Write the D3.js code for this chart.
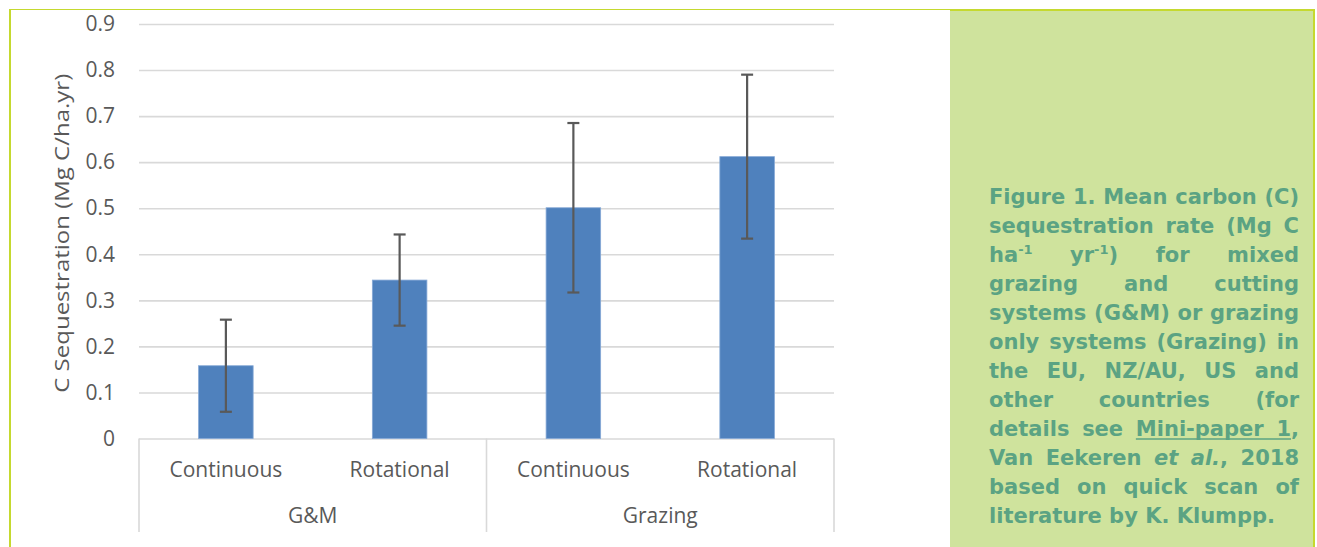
<!DOCTYPE html>
<html>
<head>
<meta charset="utf-8">
<script src="https://cdn.jsdelivr.net/npm/d3@7"></script>
<style>
  html, body { margin: 0; padding: 0; background: #ffffff; }
  svg { display: block; }
</style>
</head>
<body>
<svg id="chart" width="1317" height="547"></svg>
<script>
// ---------- data ----------
const groups = ["G&M", "Grazing"];
const categories = ["Continuous", "Rotational", "Continuous", "Rotational"];
const categoryGroup = ["G&M", "G&M", "Grazing", "Grazing"];
const values = [0.158, 0.344, 0.501, 0.612];
const errors = [0.100, 0.099, 0.184, 0.178];
const yTicks = [0, 0.1, 0.2, 0.3, 0.4, 0.5, 0.6, 0.7, 0.8, 0.9];
const yTitle = "C Sequestration (Mg C/ha.yr)";

// caption lines: each word is list of segments
const captionLines = [
  [[{t:"Figure"}],[{t:"1."}],[{t:"Mean"}],[{t:"carbon"}],[{t:"(C)"}]],
  [[{t:"sequestration"}],[{t:"rate"}],[{t:"(Mg"}],[{t:"C"}]],
  [[{t:"ha"},{t:"-1",sup:true}],[{t:"yr"},{t:"-1",sup:true},{t:")"}],[{t:"for"}],[{t:"mixed"}]],
  [[{t:"grazing"}],[{t:"and"}],[{t:"cutting"}]],
  [[{t:"systems"}],[{t:"(G&M)"}],[{t:"or"}],[{t:"grazing"}]],
  [[{t:"only"}],[{t:"systems"}],[{t:"(Grazing)"}],[{t:"in"}]],
  [[{t:"the"}],[{t:"EU,"}],[{t:"NZ/AU,"}],[{t:"US"}],[{t:"and"}]],
  [[{t:"other"}],[{t:"countries"}],[{t:"(for"}]],
  [[{t:"details"}],[{t:"see"}],[{t:"Mini-paper",u:true}],[{t:"1",u:true},{t:","}]],
  [[{t:"Van"}],[{t:"Eekeren"}],[{t:"et",it:true}],[{t:"al.",it:true},{t:","}],[{t:"2018"}]],
  [[{t:"based"}],[{t:"on"}],[{t:"quick"}],[{t:"scan"}],[{t:"of"}]],
  [[{t:"literature"}],[{t:"by"}],[{t:"K."}],[{t:"Klumpp."}]]
];

// ---------- setup ----------
const svg = d3.select("#chart");
const frameColor = "#c5d92f";
const panelFill = "#cfe39d";
const captionColor = "#5ba383";
const textGray = "#595959";
const gridColor = "#d9d9d9";
const barColor = "#4f81bd";

// frame
svg.append("line").attr("x1", 10).attr("x2", 10).attr("y1", 9).attr("y2", 547)
  .attr("stroke", frameColor).attr("stroke-width", 2);
svg.append("line").attr("x1", 9).attr("x2", 951).attr("y1", 9.5).attr("y2", 9.5)
  .attr("stroke", frameColor).attr("stroke-width", 1.2);

// panel
svg.append("rect").attr("x", 950).attr("y", 9).attr("width", 364).attr("height", 540)
  .attr("fill", panelFill);
svg.append("line").attr("x1", 950).attr("x2", 1315).attr("y1", 10).attr("y2", 10)
  .attr("stroke", frameColor).attr("stroke-width", 2);
svg.append("line").attr("x1", 1314).attr("x2", 1314).attr("y1", 9).attr("y2", 547)
  .attr("stroke", frameColor).attr("stroke-width", 2);

// ---------- scales ----------
const plotLeft = 139, plotRight = 834, plotTop = 24, plotBottom = 438.5;
const y = d3.scaleLinear().domain([0, 0.9]).range([plotBottom, plotTop]);
const keys = categories.map((c, i) => categoryGroup[i] + "|" + c);
const x = d3.scaleBand().domain(keys).range([plotLeft, plotRight])
  .paddingInner(0.686).paddingOuter(0.343);

const chart = svg.append("g");

// gridlines via axis
const yAxis = d3.axisLeft(y).tickValues(yTicks).tickSize(-(plotRight - plotLeft))
  .tickFormat(d => d3.format("")(+d.toFixed(1)));
const yg = chart.append("g").attr("transform", `translate(${plotLeft},0)`).call(yAxis);
yg.select(".domain").remove();
yg.selectAll(".tick line").attr("stroke", gridColor).attr("stroke-width", 1.6);
yg.selectAll(".tick text").attr("x", -24).attr("fill", textGray)
  .style("font-family", "'Open Sans', sans-serif").style("font-size", "21px");

// category axis separators
const sepX = [plotLeft, (plotLeft + plotRight) / 2, plotRight];
chart.selectAll(".sep").data(sepX).enter().append("line")
  .attr("x1", d => d).attr("x2", d => d).attr("y1", plotBottom).attr("y2", 532)
  .attr("stroke", gridColor).attr("stroke-width", 1.6);

// bars
chart.selectAll(".bar").data(values).enter().append("rect")
  .attr("x", (d, i) => x(keys[i]))
  .attr("width", x.bandwidth())
  .attr("y", d => y(d))
  .attr("height", d => plotBottom - y(d))
  .attr("fill", barColor)
  .attr("stroke", "#86a9d6").attr("stroke-width", 0.8);

// error bars
const eb = chart.selectAll(".err").data(values).enter().append("g");
eb.append("line")
  .attr("x1", (d, i) => x(keys[i]) + x.bandwidth() / 2)
  .attr("x2", (d, i) => x(keys[i]) + x.bandwidth() / 2)
  .attr("y1", (d, i) => y(d + errors[i]))
  .attr("y2", (d, i) => y(d - errors[i]))
  .attr("stroke", textGray).attr("stroke-width", 2.2);
[1, -1].forEach(s => {
  eb.append("line")
    .attr("x1", (d, i) => x(keys[i]) + x.bandwidth() / 2 - 6)
    .attr("x2", (d, i) => x(keys[i]) + x.bandwidth() / 2 + 6)
    .attr("y1", (d, i) => y(d + s * errors[i]))
    .attr("y2", (d, i) => y(d + s * errors[i]))
    .attr("stroke", textGray).attr("stroke-width", 2.2);
});

// category labels
chart.selectAll(".cat").data(categories).enter().append("text")
  .attr("x", (d, i) => x(keys[i]) + x.bandwidth() / 2)
  .attr("y", 477)
  .attr("text-anchor", "middle").attr("fill", textGray)
  .style("font-family", "'Open Sans', sans-serif").style("font-size", "21px")
  .text(d => d);

// group labels
chart.selectAll(".grp").data(groups).enter().append("text")
  .attr("x", g => {
    const ks = keys.filter((k, i) => categoryGroup[i] === g);
    return (x(ks[0]) + x(ks[ks.length - 1]) + x.bandwidth()) / 2;
  })
  .attr("y", 523)
  .attr("text-anchor", "middle").attr("fill", textGray)
  .style("font-family", "'Open Sans', sans-serif").style("font-size", "21px")
  .text(d => d);

// y title
chart.append("text")
  .attr("transform", `translate(69,${(plotTop + plotBottom) / 2 + 2}) rotate(-90) scale(1.2,1)`)
  .attr("text-anchor", "middle").attr("fill", textGray)
  .style("font-family", "'Open Sans', sans-serif").style("font-size", "20px")
  .text(yTitle);

// ---------- caption (justified) ----------
const capLeft = 989, capRight = 1299, capTop = 204, capStep = 29;
const capFont = "21px";
const cap = svg.append("g")
  .style("font-family", "'DejaVu Sans', sans-serif")
  .style("font-weight", "bold").attr("fill", captionColor);

captionLines.forEach((line, li) => {
  const by = capTop + li * capStep;
  // build words, measure
  const words = line.map(word => {
    const g = cap.append("g");
    let cx = 0;
    const segs = word.map(seg => {
      const t = g.append("text")
        .attr("x", cx)
        .attr("y", seg.sup ? by - 8 : by)
        .style("font-size", seg.sup ? "13px" : capFont)
        .style("font-style", seg.it ? "italic" : "normal")
        .text(seg.t);
      const w = t.node().getComputedTextLength();
      const info = {x0: cx, x1: cx + w, u: !!seg.u};
      cx += w;
      return info;
    });
    return {g, w: cx, segs};
  });
  const total = d3.sum(words, d => d.w);
  const last = li === captionLines.length - 1;
  let gap = words.length > 1 ? (capRight - capLeft - total) / (words.length - 1) : 0;
  if (last) gap = 7.3;
  gap = Math.max(gap, 4);
  let px = capLeft;
  const ulines = [];
  words.forEach(wd => {
    wd.g.attr("transform", `translate(${px},0)`);
    wd.segs.forEach(s => { if (s.u) ulines.push([px + s.x0, px + s.x1]); });
    px += wd.w + gap;
  });
  if (ulines.length) {
    const ux0 = d3.min(ulines, d => d[0]), ux1 = d3.max(ulines, d => d[1]);
    cap.append("line").attr("x1", ux0).attr("x2", ux1)
      .attr("y1", by + 3).attr("y2", by + 3)
      .attr("stroke", captionColor).attr("stroke-width", 1.6);
  }
});
</script>
</body>
</html>
